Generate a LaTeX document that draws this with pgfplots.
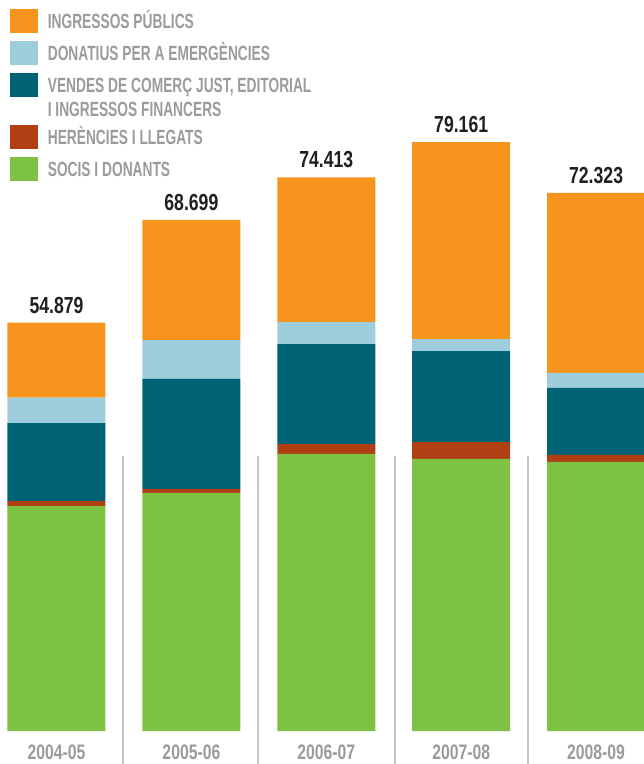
\documentclass[border=0pt]{standalone}
\usepackage{fontspec}
\usepackage{pgfplots}
\usepackage{pgfplotstable}
\pgfplotsset{compat=1.18}

\newfontfamily\legfont{Liberation Sans Bold}[FakeStretch=0.67]
\newfontfamily\numfont{Liberation Sans Bold}[FakeStretch=0.76]
\newfontfamily\lblfont{Liberation Sans Bold}[FakeStretch=0.75]

\definecolor{cpub}{HTML}{F7941D}
\definecolor{cdon}{HTML}{9ECEDC}
\definecolor{cven}{HTML}{006375}
\definecolor{cher}{HTML}{B03F14}
\definecolor{csoc}{HTML}{7DC242}
\definecolor{lgray}{HTML}{9B9B9B}
\definecolor{sepcol}{HTML}{C9C5C7}
\definecolor{dark}{HTML}{231F20}

\pgfplotsset{
  swatch/.style={legend image code/.code={\fill[#1] (0pt,-2.1pt) rectangle (13.5pt,9.4pt);}},
  frame/.style={scale only axis, width=321.5pt, height=365.5pt,
    xmin=-0.4188, xmax=4.3477, ymin=0, ymax=98.25,
    enlargelimits=false, clip=false},
}
\tikzset{ent/.style 2 args={anchor=base west, inner sep=0pt, text height=#1, text depth=#2}}

% thousands of euros per year
\pgfplotstableread{
x socis her  vendes don  pub   total  tot
0 30.24 0.67 10.48  3.40 10.09 54.879 54.879
1 31.99 0.54 14.78  5.24 16.15 68.699 68.699
2 37.23 1.34 13.44  2.96 19.44 74.413 74.413
3 36.56 2.28 12.23  1.61 26.48 79.161 79.161
4 36.16 0.94 9.01   2.02 24.19 72.323 72.323
}\ingressos

\begin{document}
\begin{tikzpicture}
\begin{axis}[
    frame,
    ybar stacked,
    bar width=49pt,
    axis x line=bottom,
    axis y line=none,
    x axis line style={draw=none},
    major tick length=0pt,
    xtick={0,1,2,3,4},
    xticklabels={2004-05,2005-06,2006-07,2007-08,2008-09},
    xticklabel style={font=\lblfont\fontsize{10.5pt}{12pt}\selectfont, text=lgray, anchor=base, yshift=-14.3pt, inner sep=0pt},
    ytick=\empty,
    legend style={at={(rel axis cs:0.0156,0.9881)}, anchor=north west,
        draw=none, fill=none, inner sep=0pt, outer sep=0pt,
        font=\legfont\fontsize{10.27pt}{12pt}\selectfont, text=lgray,
        row sep=0pt, column sep=0pt,
        cells={anchor=base west},
        nodes={inner sep=0pt},
        /tikz/every odd column/.append style={column sep=5pt}},
]
\draw[sepcol, line width=1pt] (axis cs:0.493,36.96) -- (axis cs:0.493,-5);
\draw[sepcol, line width=1pt] (axis cs:1.494,36.96) -- (axis cs:1.494,-5);
\draw[sepcol, line width=1pt] (axis cs:2.509,36.96) -- (axis cs:2.509,-5);
\draw[sepcol, line width=1pt] (axis cs:3.495,36.96) -- (axis cs:3.495,-5);

\addplot[fill=csoc, draw=none, forget plot] table[x=x, y=socis] {\ingressos};
\addplot[fill=cher, draw=none, forget plot] table[x=x, y=her] {\ingressos};
\addplot[fill=cven, draw=none, forget plot] table[x=x, y=vendes] {\ingressos};
\addplot[fill=cdon, draw=none, forget plot] table[x=x, y=don] {\ingressos};
\addplot[fill=cpub, draw=none, forget plot] table[x=x, y=pub] {\ingressos};

\addlegendimage{swatch=cpub}
\addlegendentry[ent={10pt}{6pt}]{INGRESSOS PÚBLICS}
\addlegendimage{swatch=cdon}
\addlegendentry[ent={10pt}{6pt}]{DONATIUS PER A EMERGÈNCIES}
\addlegendimage{swatch=cven}
\addlegendentry[ent={10pt}{2.1pt}]{VENDES DE COMERÇ JUST, EDITORIAL}
\addlegendimage{empty legend}
\addlegendentry[ent={9.4pt}{4pt}]{I INGRESSOS FINANCERS}
\addlegendimage{swatch=cher}
\addlegendentry[ent={10pt}{6pt}]{HERÈNCIES I LLEGATS}
\addlegendimage{swatch=csoc}
\addlegendentry[ent={10pt}{6pt}]{SOCIS I DONANTS}

\coordinate (bl) at (rel axis cs:0,0);
\coordinate (tr) at (rel axis cs:1,1);
\end{axis}
\begin{axis}[frame, hide axis]
\addplot[only marks, mark=none,
    nodes near coords, point meta=explicit symbolic,
    every node near coord/.append style={font=\numfont\fontsize{11.6pt}{13pt}\selectfont,
        text=dark, anchor=base, yshift=4.7pt, inner sep=0pt}]
    table[x=x, y=total, meta=tot] {\ingressos};
\end{axis}
\pgfresetboundingbox
\path[use as bounding box] (bl) ++(0,-16.5pt) rectangle (tr);
\end{tikzpicture}
\end{document}
